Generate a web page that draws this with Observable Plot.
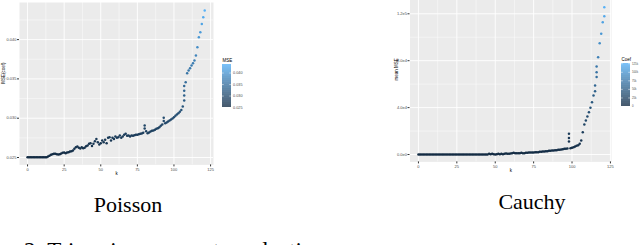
<!DOCTYPE html>
<html><head><meta charset="utf-8">
<script src="https://cdn.jsdelivr.net/npm/d3@7"></script>
<script src="https://cdn.jsdelivr.net/npm/@observablehq/plot@0.6"></script>
<style>
html,body{margin:0;padding:0;background:#fff;}
#fig{position:relative;width:640px;height:245px;overflow:hidden;}
#fig svg{position:absolute;overflow:visible;}
</style></head><body><div id="fig"></div>
<script>
// ---------- data ----------
// Poisson panel: value for k = 0, 1, 2, ...
const msePoisson = [
0.02504,0.02504,0.02504,0.02504,0.02504,0.02504,0.02504,0.02504,0.02504,0.02504,
0.02504,0.02504,0.02504,0.02504,0.02513,0.02521,0.02534,0.02542,0.02547,0.02547,
0.02542,0.02538,0.02542,0.02551,0.02559,0.02564,0.02555,0.02564,0.02568,0.02576,
0.02581,0.02589,0.02610,0.02631,0.02640,0.02623,0.02614,0.02631,0.02619,0.02623,
0.02644,0.02653,0.02674,0.02682,0.02648,0.02674,0.02708,0.02737,0.02695,0.02665,
0.02682,0.02716,0.02695,0.02725,0.02682,0.02750,0.02759,0.02716,0.02750,0.02737,
0.02767,0.02750,0.02759,0.02780,0.02750,0.02767,0.02788,0.02801,0.02776,0.02780,
0.02767,0.02780,0.02776,0.02784,0.02788,0.02788,0.02797,0.02801,0.02805,0.02814,
0.02907,0.02835,0.02809,0.02818,0.02831,0.02839,0.02843,0.02852,0.02865,0.02873,
0.02886,0.02903,0.02920,0.03005,0.02937,0.02945,0.02958,0.02971,0.02983,0.02996,
0.03013,0.03030,0.03047,0.03064,0.03081,0.03106,0.03149,0.03225,0.03458,0.03573,
0.03607,0.03636,0.03670,0.03700,0.03734,0.03797,0.03903,0.04031,0.04094,0.04200,
0.04285,0.04370];
// extra replicate points (vertical streaks)
const poissonExtraK = [80, 93, 107, 107, 107];
const poissonExtraV = [0.02870, 0.02965, 0.03290, 0.03350, 0.03410];

// Cauchy panel: value for k = 0, 1, 2, ...
const mseCauchy = [
0,0,0,0,0,0,0,0,0,0, 0,0,0,0,0,0,0,0,0,0,
0,0,0,0,0,0,0,0,0,0, 0,0,0,0,0,0,0,0,0,0,
0,0,0,0,0,0,569,284,569,284,
0,284,569,284,569,284,569,853,569,569,
853,1137,1422,1137,1137,1137,1137,1422,1137,1137,
1422,1422,1706,1706,1706,1706,1990,1990,1990,2274,
2274,2559,2559,2843,2843,3127,3127,3412,3412,3696,
3696,3980,3980,4264,4549,4833,4833,5117,17627,5402,
5686,6254,6823,7392,7960,9098,11941,19048,25587,28999,
32410,36106,39802,44635,50321,58850,70222,83016,94957,102917,
112868,125662];
const cauchyExtraK = [98, 98, 115, 116, 116, 121];
const cauchyExtraV = [11000, 14000, 54000, 66000, 75000, 118000];

// axes and legends
const kTicks = [0, 25, 50, 75, 100, 125];
const kMinor = [12.5, 37.5, 62.5, 87.5, 112.5];
const poissonYTicks = [0.025, 0.030, 0.035, 0.040];
const poissonYMinor = [0.0275, 0.0325, 0.0375, 0.0425];
const poissonLegendTicks = [0.025, 0.030, 0.035, 0.040];
const cauchyYTicks = [0, 40000, 80000, 120000];
const cauchyYLabels = ["0.0e0", "4.0e4", "8.0e4", "1.2e5"];
const cauchyYMinor = [20000, 60000, 100000];
const cauchyLegendTicks = [0, 25000, 50000, 75000, 100000, 125000];
const cauchyLegendLabels = ["0", "25k", "50k", "75k", "100k", "125k"];
const panelNames = ["Poisson", "Cauchy"];
const captionText = "2: Trimming parameter selection";

// ---------- build ----------
const fig = document.getElementById("fig");
const lowHigh = ["#132B43", "#56B1F7"];
const sans = "Liberation Sans, Arial, sans-serif";

const poissonData = msePoisson.map((v, i) => ({k: i, v}))
  .concat(poissonExtraK.map((k, i) => ({k, v: poissonExtraV[i]})));
const cauchyData = mseCauchy.map((v, i) => ({k: i, v}))
  .concat(cauchyExtraK.map((k, i) => ({k, v: cauchyExtraV[i]})));

function panel({data, width, height, mL, mR, mT, mB, xDom, yDom, yTicks, yMinor, yFmt, cDom, yTitle, yTitleDx, xTitleDy}) {
  return Plot.plot({
    width, height, marginLeft: mL, marginRight: mR, marginTop: mT, marginBottom: mB,
    style: {background: "transparent", fontFamily: sans, overflow: "visible"},
    x: {domain: xDom},
    y: {domain: yDom},
    color: {type: "linear", domain: cDom, range: lowHigh, interpolate: "lab"},
    marks: [
      Plot.frame({fill: "#ebebeb", stroke: "none"}),
      Plot.gridX(kMinor, {stroke: "#fff", strokeOpacity: 1, strokeWidth: 0.45}),
      Plot.gridY(yMinor, {stroke: "#fff", strokeOpacity: 1, strokeWidth: 0.45}),
      Plot.gridX(kTicks, {stroke: "#fff", strokeOpacity: 1, strokeWidth: 0.9}),
      Plot.gridY(yTicks, {stroke: "#fff", strokeOpacity: 1, strokeWidth: 0.9}),
      Plot.axisX(kTicks, {tickSize: 2, tickPadding: 1, fontSize: 4, stroke: "#333", fill: "#4d4d4d", label: null}),
      Plot.axisY(yTicks, {tickSize: 2, tickPadding: 1, fontSize: 4, stroke: "#333", fill: "#4d4d4d", label: null, tickFormat: yFmt}),
      Plot.dot(data, {x: "k", y: "v", fill: "v", r: 1.25, stroke: "none"}),
      Plot.text(["k"], {frameAnchor: "bottom", dy: xTitleDy, fontSize: 4.5, fill: "#000"}),
      Plot.text([yTitle], {frameAnchor: "left", dx: yTitleDx, rotate: -90, fontSize: 4.5, fill: "#000"})
    ]
  });
}

function colorbar({dom, ticks, labels, title, width, height, mL, mR, mT, mB, fs}) {
  const n = 64;
  const strips = d3.range(n).map(i => ({
    y1: dom[0] + (dom[1] - dom[0]) * i / n,
    y2: dom[0] + (dom[1] - dom[0]) * (i + 1) / n,
    c: dom[0] + (dom[1] - dom[0]) * (i + 0.5) / n
  }));
  return Plot.plot({
    width, height, marginLeft: mL, marginRight: mR, marginTop: mT, marginBottom: mB,
    style: {background: "transparent", fontFamily: sans, overflow: "visible"},
    x: {domain: [0, 1], axis: null},
    y: {domain: dom, axis: null},
    color: {type: "linear", domain: dom, range: lowHigh, interpolate: "lab"},
    marks: [
      Plot.rect(strips, {x1: 0, x2: 1, y1: "y1", y2: "y2", fill: "c", inset: 0, stroke: "none"}),
      Plot.ruleY(ticks, {x1: 0, x2: 0.2, stroke: "#fff", strokeWidth: 0.5}),
      Plot.ruleY(ticks, {x1: 0.8, x2: 1, stroke: "#fff", strokeWidth: 0.5}),
      Plot.text(ticks, {x: 1, y: d => d, text: labels, dx: 1.5, textAnchor: "start", fontSize: fs, fill: "#4d4d4d"}),
      Plot.text([title], {x: 0, y: dom[1], dy: -4, textAnchor: "start", fontSize: 4.5, fill: "#000"})
    ]
  });
}

const f3 = d3.format(".3f");
const pDom = [d3.min(msePoisson), d3.max(msePoisson)];
const cDom = [d3.min(mseCauchy), d3.max(mseCauchy)];

const left = panel({data: poissonData, width: 216, height: 180, mL: 19, mR: 3, mT: 2, mB: 15.6,
  xDom: [-5.5, 127], yDom: [0.02406, 0.04472], yTicks: poissonYTicks, yMinor: poissonYMinor,
  yFmt: f3, cDom: pDom, yTitle: "MSE(coef)", yTitleDx: -16, xTitleDy: 10});
left.style.left = "0px"; left.style.top = "0px";
fig.appendChild(left);

const lmap = new Map(cauchyYTicks.map((t, i) => [t, cauchyYLabels[i]]));
const right = panel({data: cauchyData, width: 235, height: 185, mL: 31.5, mR: 2, mT: 3.6, mB: 18.6,
  xDom: [-5.5, 125.7], yDom: [-6311, 132541], yTicks: cauchyYTicks, yMinor: cauchyYMinor,
  yFmt: d => lmap.get(d), cDom: cDom, yTitle: "mean MSE", yTitleDx: -13.5, xTitleDy: 10});
right.style.left = "378px"; right.style.top = "-5px";
fig.appendChild(right);

const lleg = colorbar({dom: pDom, ticks: poissonLegendTicks, labels: poissonLegendTicks.map(f3), title: "MSE",
  width: 25, height: 56, mL: 2, mR: 14, mT: 9, mB: 4, fs: 3.8});
lleg.style.left = "220px"; lleg.style.top = "55px";
fig.appendChild(lleg);

const rleg = colorbar({dom: cDom, ticks: cauchyLegendTicks, labels: cauchyLegendLabels, title: "Coef",
  width: 21, height: 58, mL: 2, mR: 10, mT: 11, mB: 4, fs: 2.8});
rleg.style.left = "619px"; rleg.style.top = "52px";
fig.appendChild(rleg);

// figure labels and caption
const svg = d3.select(fig).append("svg")
  .attr("width", 640).attr("height", 245)
  .style("left", "0px").style("top", "0px");
const serif = "Liberation Serif, DejaVu Serif, serif";
svg.append("text").attr("x", 128).attr("y", 212).attr("text-anchor", "middle")
  .attr("font-family", serif).attr("font-size", 22).text(panelNames[0]);
svg.append("text").attr("x", 532).attr("y", 209).attr("text-anchor", "middle")
  .attr("font-family", serif).attr("font-size", 22).text(panelNames[1]);
svg.append("text").attr("x", 24).attr("y", 258)
  .attr("font-family", serif).attr("font-size", 23).text(captionText);
</script></body></html>
